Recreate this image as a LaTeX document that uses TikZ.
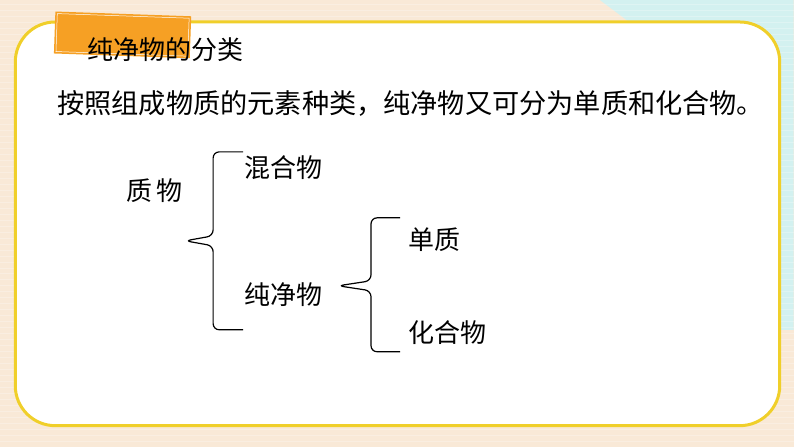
\documentclass[tikz,border=0pt]{standalone}
\usepackage{fontspec}
\newfontfamily\cjk{Noto Sans CJK SC}
\definecolor{bgbeige}{HTML}{F9E9D7}
\definecolor{bgcyan}{HTML}{D3F1F0}
\definecolor{cardline}{HTML}{F0CF2A}
\definecolor{tabor}{HTML}{F6A024}
\tikzset{
	label text/.style={font=\cjk\fontsize{26}{30}\selectfont, inner sep=0pt, anchor=west},
	brace line/.style={line width=1.2pt, rounded corners=6pt},
}
\begin{document}
\begin{tikzpicture}[x=1pt, y=-1pt]

\fill[bgbeige] (0,0) rectangle (794,447);
\fill[bgcyan] (600,0) -- (794,0) -- (794,330) -- (760,330) -- (760,120) -- cycle;
\foreach \y in {4,10,...,447}
	\draw[white, opacity=0.25, line width=0.6pt] (0,\y) -- (794,\y);

\draw[cardline, fill=white, line width=3pt, rounded corners=40pt]
	(15,22) rectangle (780,426);

\fill[tabor, rotate around={-2:(125,45)}] (54,14) rectangle (190,56);
\draw[white, line width=0.5pt, rotate around={-2:(125,45)}] (56,16) rectangle (188,54);

% texts
\node[label text] (title) at (87,50) {纯净物的分类};
\node[label text, font=\cjk\fontsize{27.2}{32}\selectfont] (intro) at (57,104)
	{按照组成物质的元素种类，纯净物又可分为单质和化合物。};
\node[label text] (matter) at (126,191) {质\,物};
\node[label text] (mixture) at (244,168) {混合物};
\node[label text] (pure) at (244,295) {纯净物};
\node[label text] (element) at (408,240) {单质};
\node[label text] (compound) at (408,333) {化合物};

% braces
\coordinate (tipA) at (185,241);
\coordinate (tipB) at (338,286);
\draw[brace line] (243,152) -- (213,152) -- (213,236) -- (tipA) -- (213,246) -- (213,330) -- (243,330);
\draw[brace line] (400,218) -- (371,218) -- (371,281) -- (tipB) -- (371,291) -- (371,352) -- (400,352);

\end{tikzpicture}
\end{document}
